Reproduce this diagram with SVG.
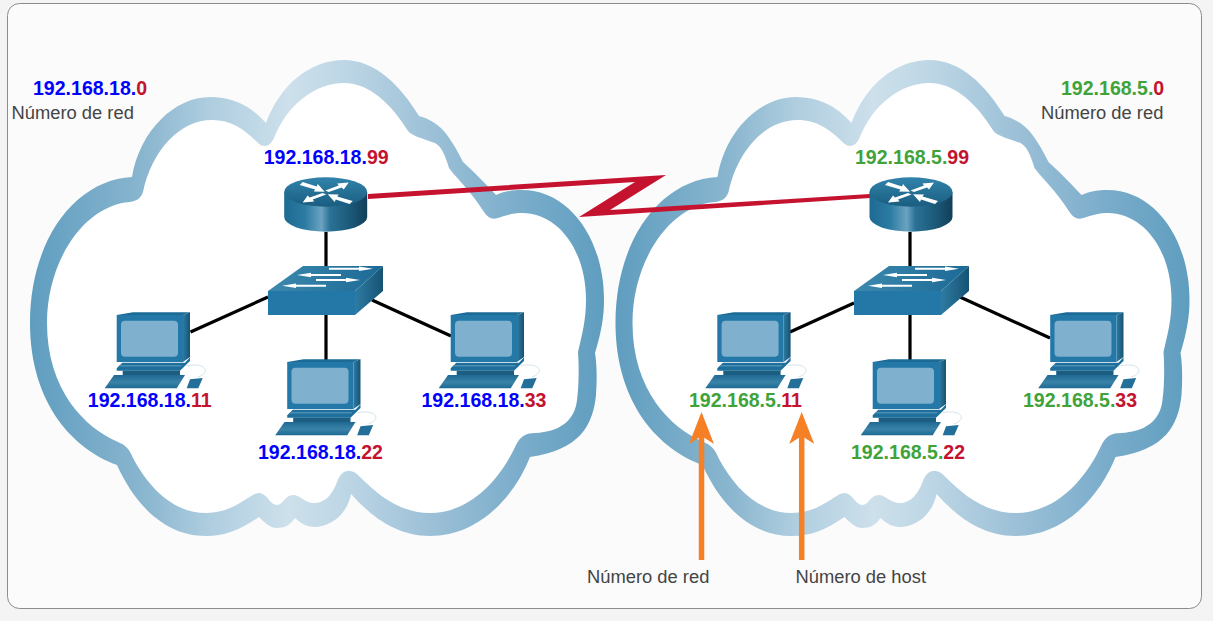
<svg xmlns="http://www.w3.org/2000/svg" xmlns:xlink="http://www.w3.org/1999/xlink" width="1213" height="621" viewBox="0 0 1213 621">
<style>
text{font-family:"Liberation Sans",Arial,sans-serif}
.ip{font-size:19.55px;font-weight:700}
.b{fill:#0000ff}.g{fill:#3fa33a}.r{fill:#c4122f}
.lbl{font-size:18.35px;fill:#444}
.wire{stroke:#000;stroke-width:3.2;fill:none}
.pointer{stroke:#f58026;stroke-width:5.5;fill:none;marker-end:url(#head)}
</style>
<defs>
<linearGradient id="cloudG" gradientUnits="userSpaceOnUse" x1="30" y1="0" x2="604" y2="0">
<stop offset="0" stop-color="#5f9dbf"/><stop offset=".2" stop-color="#8ab6cf"/><stop offset=".31" stop-color="#aecddf"/><stop offset=".45" stop-color="#cde0eb"/><stop offset=".55" stop-color="#bdd6e5"/><stop offset=".7" stop-color="#9cc0d7"/><stop offset=".85" stop-color="#7badcb"/><stop offset="1" stop-color="#5f9dbf"/>
</linearGradient>
<linearGradient id="rSide"><stop offset="0" stop-color="#1d6a92"/><stop offset=".25" stop-color="#2c7ba3"/><stop offset=".45" stop-color="#6ba3c0"/><stop offset=".55" stop-color="#2b7296"/><stop offset=".8" stop-color="#1b5878"/><stop offset="1" stop-color="#123f59"/></linearGradient>
<linearGradient id="rTop" x1="0" y1="0" x2="0" y2="1"><stop offset="0" stop-color="#3183ab"/><stop offset="1" stop-color="#1a5d80"/></linearGradient>
<linearGradient id="sTop" x1="0" y1="0" x2="1" y2="0"><stop offset="0" stop-color="#3d89ae"/><stop offset="1" stop-color="#1b6a96"/></linearGradient>
<linearGradient id="sSide" x1="0" y1="0" x2="1" y2="0"><stop offset="0" stop-color="#2e7ba3"/><stop offset="1" stop-color="#165373"/></linearGradient>
<linearGradient id="kb" x1="0" y1="0" x2="0" y2="1"><stop offset="0" stop-color="#1f6a94"/><stop offset=".55" stop-color="#3a82a7"/><stop offset="1" stop-color="#1d6a94"/></linearGradient>
<marker id="head" markerUnits="userSpaceOnUse" markerWidth="32" markerHeight="25" refX="14" refY="12.500" viewBox="0 0 32 25" orient="auto">
<path d="M32 12.500L0 0L8 12.500L0 25Z" fill="#f58026"/>
</marker>
<g id="cloud">
<path fill="url(#cloudG)" d="M132 177C140 130 175 97 210 97C232 97 250 105 266 123C280 85 310 60 344 60C375 60 400 85 419 116C430 119 440 125 447 135C453 143 458 152 463 162C472 170 484 182 496 195C505 191 513 190 522 190C570 190 604 240 604 300C604 315 602 330 595 353C597 365 597 380 596 395C593 425 580 450 530 457C515 495 480 536 430 536C395 536 370 515 351 494C347 515 330 527 314 527C307 527 300 523 295 518C290 525 285 528 277 528C270 528 265 523 259 517C240 530 225 536 206 536C165 536 135 505 117 465C75 450 30 405 30 323C30 240 75 180 132 177Z"/>
<path fill="#fff" d="M130 202C137 201 141 198 143 192C152 150 180 120 212 120C232 120 245 130 258 143C263 148 270 147 274 138C287 105 315 83 344 83C370 83 392 105 408 131C411 135 420 138 435 143C442 147 445 155 449 168C458 180 470 190 484 212C488 218 492 220 498 218C506 215 514 213 522 213C558 213 586 250 586 300C586 320 582 335 578 352C579 365 579 385 577 400C575 420 560 432 535 433C525 433 520 437 516 445C500 480 470 513 430 513C400 513 378 495 360 477C352 468 342 468 337 482C332 495 325 503 314 503C305 503 300 495 293 495C285 495 283 505 277 505C270 505 267 493 259 493C250 493 235 513 206 513C175 513 150 490 133 458C129 448 125 445 118 442C85 428 47 390 47 323C47 260 85 205 130 202Z"/>
</g>
<path id="rIn" d="M-26 -7L-23 -10L-9 -5.500L-8 -8L-1 -.3L-12 -.5L-10.500 -2.500Z" fill="#fff"/>
<path id="rOut" d="M23 -9.500L18 -2.500L16 -4.500L3 0L-.5 -1.500L13 -6.500L11.500 -8.500Z" fill="#fff"/>
<g id="routerIcon">
<path fill="url(#rSide)" d="M-41.500 0V25A41.500 14.700 0 0 0 41.500 25V0Z"/>
<ellipse rx="41.500" ry="14.700" fill="url(#rTop)"/>
<use xlink:href="#rIn" href="#rIn"/>
<use xlink:href="#rOut" href="#rOut"/>
<use xlink:href="#rOut" href="#rOut" transform="translate(0,1) rotate(180)"/>
<use xlink:href="#rIn" href="#rIn" transform="translate(1,2) rotate(180)"/>
</g>
<path id="sArrow" d="M0 0L14 -2.200V-1H44V1H14V2.200Z" fill="#fff"/>
<g id="switchIcon">
<path fill="url(#sTop)" d="M0 26L35 1H115L87 26Z"/>
<path fill="url(#sSide)" d="M87 26L115 1V26L87 50Z"/>
<rect y="26" width="87" height="24" fill="#2378a8"/>
<use xlink:href="#sArrow" href="#sArrow" transform="translate(105,3.700) scale(-1,1)"/>
<use xlink:href="#sArrow" href="#sArrow" transform="translate(29,10)"/>
<use xlink:href="#sArrow" href="#sArrow" transform="translate(92,15) scale(-1,1)"/>
<use xlink:href="#sArrow" href="#sArrow" transform="translate(14,20.700)"/>
</g>
<g id="pcIcon">
<path fill="#1c6a96" d="M12.700 3L29 .3H86L79 3Z"/>
<path fill="url(#sSide)" d="M79 3L86 .3V45L79 50Z"/>
<rect x="12.700" y="3" width="66.300" height="47" fill="#2378a8"/>
<rect x="17" y="8.700" width="57" height="36" rx="4" fill="#7fb0cd"/>
<path fill="#1f6f9c" d="M18.300 50.700H81L86 45.300V49L76 58.700H12.700V56.300Z"/>
<path fill="#4a8fb3" d="M16 53H78L76.500 54.500H14.500Z"/>
<rect x="18.700" y="58.700" width="57.300" height="4.300" fill="#1c5d82"/>
<path fill="url(#kb)" d="M10 63H81L72.700 76.300H.7Z"/>
<path fill="#236f99" d="M86 67.300L98.700 66L94.300 76.300H82.700Z"/>
<path fill="none" stroke="#b5d1e0" stroke-width=".6" d="M83 53.700C101 50 108 60 94 65"/>
</g>
</defs>

<rect width="1213" height="621" fill="#f4f4f4"/>
<rect x="7.500" y="3.500" width="1194" height="605" rx="12" fill="#fbfbfb" stroke="#8c8c8c" stroke-width="1"/>

<g id="cloud-left"><use xlink:href="#cloud" href="#cloud"/></g>
<g id="cloud-right"><use xlink:href="#cloud" href="#cloud" transform="translate(585.500,0)"/></g>

<g id="connectors">
<path class="wire" d="M326 232V270M326 315V360M190.500 332L268 297M372 300L451 336"/>
<path class="wire" d="M910 232V270M910 315V360M790 332L854 303M960 297L1050 338"/>
<path fill="#c4122f" d="M368 194L666 175L610 210L870 194V198L579 217L635 182L368 199Z"/>
<line class="pointer" x1="701.500" y1="560" x2="701.500" y2="430"/>
<line class="pointer" x1="801.700" y1="560" x2="801.700" y2="430"/>
</g>

<g id="router-left"><use xlink:href="#routerIcon" href="#routerIcon" transform="translate(325.700,192)"/></g>
<g id="router-right"><use xlink:href="#routerIcon" href="#routerIcon" transform="translate(911,192)"/></g>
<g id="switch-left"><use xlink:href="#switchIcon" href="#switchIcon" transform="translate(268,265)"/></g>
<g id="switch-right"><use xlink:href="#switchIcon" href="#switchIcon" transform="translate(854,265)"/></g>
<g id="pc-l1"><use xlink:href="#pcIcon" href="#pcIcon" transform="translate(104,312)"/></g>
<g id="pc-l2"><use xlink:href="#pcIcon" href="#pcIcon" transform="translate(274.500,359)"/></g>
<g id="pc-l3"><use xlink:href="#pcIcon" href="#pcIcon" transform="translate(438,312)"/></g>
<g id="pc-r1"><use xlink:href="#pcIcon" href="#pcIcon" transform="translate(704.600,312)"/></g>
<g id="pc-r2"><use xlink:href="#pcIcon" href="#pcIcon" transform="translate(860,359)"/></g>
<g id="pc-r3"><use xlink:href="#pcIcon" href="#pcIcon" transform="translate(1037.500,312)"/></g>

<g id="labels">
<text class="ip" x="33" y="95"><tspan class="b">192.168.18.</tspan><tspan class="r">0</tspan></text>
<text class="lbl" x="11.500" y="119">Número de red</text>
<text class="ip" x="263.700" y="164"><tspan class="b">192.168.18.</tspan><tspan class="r">99</tspan></text>
<text class="ip" x="87.800" y="407"><tspan class="b">192.168.18.</tspan><tspan class="r">11</tspan></text>
<text class="ip" x="421.500" y="407"><tspan class="b">192.168.18.</tspan><tspan class="r">33</tspan></text>
<text class="ip" x="258" y="459"><tspan class="b">192.168.18.</tspan><tspan class="r">22</tspan></text>
<text class="ip" x="1061" y="95"><tspan class="g">192.168.5.</tspan><tspan class="r">0</tspan></text>
<text class="lbl" x="1041" y="119">Número de red</text>
<text class="ip" x="855" y="164"><tspan class="g">192.168.5.</tspan><tspan class="r">99</tspan></text>
<text class="ip" x="689" y="407"><tspan class="g">192.168.5.</tspan><tspan class="r">11</tspan></text>
<text class="ip" x="1023" y="407"><tspan class="g">192.168.5.</tspan><tspan class="r">33</tspan></text>
<text class="ip" x="851" y="459"><tspan class="g">192.168.5.</tspan><tspan class="r">22</tspan></text>
<text class="lbl" x="587" y="583">Número de red</text>
<text class="lbl" x="795.500" y="583">Número de host</text>
</g>
</svg>
